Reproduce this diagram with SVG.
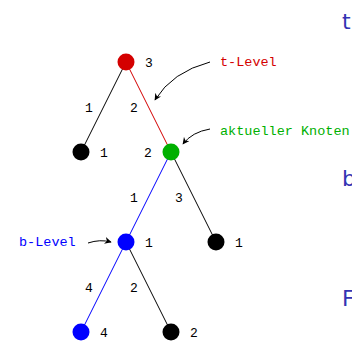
<svg xmlns="http://www.w3.org/2000/svg" width="352" height="346" viewBox="0 0 352 346">
<defs>
<style>
.t{font-family:"Liberation Mono","DejaVu Sans Mono",monospace;font-size:13px;fill:#000}
.lbl{font-family:"Liberation Mono","DejaVu Sans Mono",monospace;font-size:13.5px}
.side{font-family:"DejaVu Sans","Liberation Sans",sans-serif;font-size:22px;fill:#3333b3}
.e{stroke-width:1;fill:none}
.a{stroke:#000;stroke-width:1;fill:none;marker-end:url(#ah)}
</style>
<marker id="ah" viewBox="0 0 10 10" refX="9" refY="5" markerWidth="7" markerHeight="7" orient="auto" markerUnits="userSpaceOnUse">
<path d="M0,0 L10,5 L0,10 L3,5 Z" fill="#000"/>
</marker>
</defs>
<rect width="352" height="346" fill="#fff"/>
<g id="connectors">
<line class="e" x1="126" y1="62" x2="81" y2="152" stroke="#000"/>
<line class="e" x1="126" y1="62" x2="171" y2="152" stroke="#d40000"/>
<line class="e" x1="171" y1="152" x2="126" y2="242" stroke="#0000ff"/>
<line class="e" x1="171" y1="152" x2="216" y2="242" stroke="#000"/>
<line class="e" x1="126" y1="242" x2="81" y2="332" stroke="#0000ff"/>
<line class="e" x1="126" y1="242" x2="171" y2="332" stroke="#000"/>
<text class="t" x="89" y="112" text-anchor="middle">1</text>
<text class="t" x="134" y="112" text-anchor="middle">2</text>
<text class="t" x="134" y="202" text-anchor="middle">1</text>
<text class="t" x="179" y="202" text-anchor="middle">3</text>
<text class="t" x="89" y="292" text-anchor="middle">4</text>
<text class="t" x="134" y="292" text-anchor="middle">2</text>
<path class="a" d="M210,62 Q172,72 155,100"/>
<path class="a" d="M210,129 Q192,132 183,144"/>
<path class="a" d="M88,243 Q100,239 111,242"/>
</g>
<g id="n_root"><circle cx="126" cy="62" r="8.5" fill="#d40000"/><text class="t" x="149" y="67" text-anchor="middle">3</text></g>
<g id="n_l"><circle cx="81" cy="152" r="8.5" fill="#000"/><text class="t" x="104" y="157" text-anchor="middle">1</text></g>
<g id="n_cur"><circle cx="171" cy="152" r="8.5" fill="#00b000"/><text class="t" x="148" y="157" text-anchor="middle">2</text></g>
<g id="n_b"><circle cx="126" cy="242" r="8.5" fill="#0000ff"/><text class="t" x="149" y="247" text-anchor="middle">1</text></g>
<g id="n_r"><circle cx="216" cy="242" r="8.5" fill="#000"/><text class="t" x="239" y="247" text-anchor="middle">1</text></g>
<g id="n_bl"><circle cx="81" cy="332" r="8.5" fill="#0000ff"/><text class="t" x="104" y="337" text-anchor="middle">4</text></g>
<g id="n_br"><circle cx="171" cy="332" r="8.5" fill="#000"/><text class="t" x="194" y="337" text-anchor="middle">2</text></g>
<g id="lbl_t"><text class="lbl" x="220" y="66" fill="#d40000">t-Level</text></g>
<g id="lbl_k"><text class="lbl" x="220" y="135" fill="#00b000">aktueller Knoten</text></g>
<g id="lbl_b"><text class="lbl" x="19" y="246" fill="#0000ff">b-Level</text></g>
<g id="side">
<text class="side" x="342" y="29">t</text>
<text class="side" x="342" y="186">b</text>
<text class="side" x="342" y="306">F</text>
</g>
</svg>
